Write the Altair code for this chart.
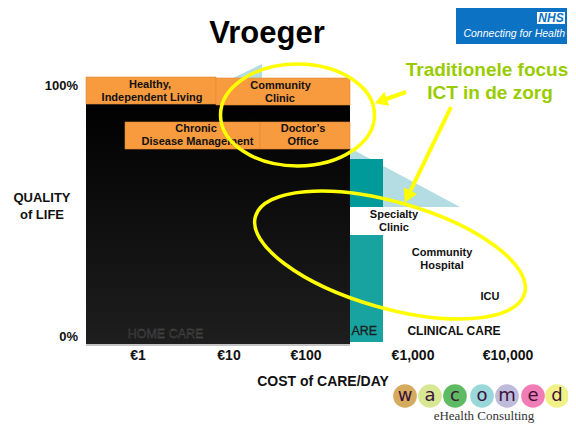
import altair as alt
import pandas as pd

# ---------------- frame (page pixel space of the 576x431 slide) ----------------
W, H = 560, 415
sx = alt.Scale(domain=[8, 568], nice=False, zero=False)
sy = alt.Scale(domain=[8, 423], nice=False, zero=False, reverse=True)

def X(f): return alt.X(f"{f}:Q", scale=sx, axis=None)
def Y(f): return alt.Y(f"{f}:Q", scale=sy, axis=None)

FONT = "Liberation Sans"
SERIF = "Liberation Serif"
YELLOW = "#ffff00"

# ---------------- data ----------------
cost_labels = ["€1", "€10", "€100", "€1,000", "€10,000"]
cost_x = [138, 229, 306, 413, 508]
cost_y = 356

quality_labels = ["100%", "0%"]
quality_y = [86, 337]

# orange care-setting boxes
box_x1 = [86, 216, 125, 260]
box_x2 = [216, 350, 260, 350]
box_y1 = [77, 78, 122, 122]
box_y2 = [104, 105, 149, 149]
box_line1 = ["Healthy,", "Community", "Chronic", "Doctor\u2019s"]
box_line2 = ["Independent Living", "Clinic", "Disease Management", "Office"]
box_tx1 = [150, 280.5, 196, 303]
box_tx2 = [152, 280, 197.5, 303]
box_ty1 = [85, 86, 129, 129]
box_ty2 = [97.5, 98.5, 141.5, 141.5]

# teal clinical columns
teal_x1 = [350, 350]
teal_x2 = [383, 383]
teal_y1 = [159, 235]
teal_y2 = [207, 342]
teal_col = ["#009a9a", "#18a3a0"]

# light blue wedges
tri_id = ["a", "a", "b", "b"]
tri_x = [233, 262, 348, 460]
tri_y = [78, 64, 147, 207]
tri_y2 = [78, 78, 207, 207]

# clinical labels
clin_text = ["Specialty", "Clinic", "Community", "Hospital", "ICU"]
clin_x = [394, 394, 442, 442, 490]
clin_y = [215, 227.5, 253, 266, 297]

# yellow ellipses: centre, radii, rotation
ell_cx = [297.5, 390]
ell_cy = [115, 255]
ell_rx = [77, 140]
ell_ry = [51, 53]
ell_rot = [0, 16]

# yellow arrows: start, head centre, head angle
arr_x = [406, 451]
arr_y = [92, 107]
arr_hx = [380.7, 407.6]
arr_hy = [101, 196.6]
arr_ang = [250.5, 205.8]

# wacomed logo
logo_letters = ["w", "a", "c", "o", "m", "e", "d"]
logo_x = [405, 430, 455, 482, 507, 533, 557]
logo_col = ["#cfa24e", "#d4e488", "#4db352", "#8fd3d6", "#b8b4d6", "#ef6fae", "#eef07a"]
logo_y = 396

# ---------------- layers ----------------
tri_df = pd.DataFrame({"id": tri_id, "x": tri_x, "y": tri_y, "y2": tri_y2})
tris = alt.Chart(tri_df).mark_area(color="#b3dde2").encode(
    x=X("x"), y=Y("y"), y2="y2:Q", detail="id:N")

teal_df = pd.DataFrame({"x": teal_x1, "x2": teal_x2, "y": teal_y1, "y2": teal_y2, "c": teal_col})
teal = alt.Chart(teal_df).mark_rect().encode(
    x=X("x"), x2="x2:Q", y=Y("y"), y2="y2:Q", color=alt.Color("c:N", scale=None))

are_txt = alt.Chart(pd.DataFrame({"t": ["ARE"], "x": [351.5], "y": [331]})).mark_text(
    font=FONT, fontSize=12.5, align="left", baseline="middle", color="#1c1c1c",
    stroke="#1c1c1c", strokeWidth=0.3).encode(x=X("x"), y=Y("y"), text="t:N")

black_df = pd.DataFrame({"x": [86], "x2": [350], "y": [100], "y2": [344]})
black = alt.Chart(black_df).mark_rect(color={
    "gradient": "linear", "x1": 0, "x2": 0, "y1": 0, "y2": 1,
    "stops": [{"offset": 0, "color": "#000000"}, {"offset": 1, "color": "#1e1e1e"}]}).encode(
    x=X("x"), x2="x2:Q", y=Y("y"), y2="y2:Q")

base_line = alt.Chart(pd.DataFrame({"x": [86], "x2": [350], "y": [345]})).mark_rule(
    color="#b0b0b0", strokeWidth=1.5).encode(x=X("x"), x2="x2:Q", y=Y("y"))

box_df = pd.DataFrame({"x": box_x1, "x2": box_x2, "y": box_y1, "y2": box_y2})
boxes = alt.Chart(box_df).mark_rect(color="#f89a3e", stroke="#e08a34", strokeWidth=0.6).encode(
    x=X("x"), x2="x2:Q", y=Y("y"), y2="y2:Q")

home = alt.Chart(pd.DataFrame({"t": ["HOME CARE"], "x": [165.5], "y": [334]})).mark_text(
    font=FONT, fontSize=12.5, align="center", baseline="middle", color="#262626",
    stroke="#5a5a5a", strokeWidth=0.3).encode(x=X("x"), y=Y("y"), text="t:N")

# bold centred labels
bt, bx, by, bs, bc = [], [], [], [], []
def add(t, x, y, s, c="#111111"):
    bt.append(t); bx.append(x); by.append(y); bs.append(s); bc.append(c)

add("Vroeger", 267, 34, 31, "#000000")
for i in range(4):
    add(box_line1[i], box_tx1[i], box_ty1[i], 11)
    add(box_line2[i], box_tx2[i], box_ty2[i], 11)
add("QUALITY", 42, 198, 13)
add("of LIFE", 42, 215, 13)
for t, x, y in zip(clin_text, clin_x, clin_y):
    add(t, x, y, 11)
add("CLINICAL CARE", 454, 331, 12)
add("COST of CARE/DAY", 323, 382, 14)
for t, x in zip(cost_labels, cost_x):
    add(t, x, cost_y, 14)
add("Traditionele focus", 487, 70, 19, "#99cc00")
add("ICT in de zorg", 490, 93, 19, "#99cc00")

bold_df = pd.DataFrame({"t": bt, "x": bx, "y": by, "s": bs, "c": bc})
bold = alt.Chart(bold_df).mark_text(font=FONT, fontWeight="bold", align="center",
                                    baseline="middle").encode(
    x=X("x"), y=Y("y"), text="t:N", size=alt.Size("s:Q", scale=None),
    color=alt.Color("c:N", scale=None))

qual = alt.Chart(pd.DataFrame({"t": quality_labels, "x": [78, 78], "y": quality_y})).mark_text(
    font=FONT, fontWeight="bold", fontSize=13, align="right", baseline="middle", color="#111").encode(
    x=X("x"), y=Y("y"), text="t:N")

# ellipses as custom symbols (bezier ellipse, x-radius 1)
K = 0.5523
def ellipse_path(r):
    kr = K * r
    return (f"M 1 0 C 1 {kr:.4f} {K} {r:.4f} 0 {r:.4f} "
            f"C {-K} {r:.4f} -1 {kr:.4f} -1 0 "
            f"C -1 {-kr:.4f} {-K} {-r:.4f} 0 {-r:.4f} "
            f"C {K} {-r:.4f} 1 {-kr:.4f} 1 0 Z")

ellipses = []
for cx, cy, rx, ry, rot in zip(ell_cx, ell_cy, ell_rx, ell_ry, ell_rot):
    ellipses.append(alt.Chart(pd.DataFrame({"x": [cx], "y": [cy]})).mark_point(
        shape=ellipse_path(ry / rx), size=(2 * rx) ** 2, angle=rot, filled=False,
        color=YELLOW, strokeWidth=3.5, opacity=1).encode(x=X("x"), y=Y("y")))

arr_df = pd.DataFrame({"x": arr_x, "y": arr_y, "x2": arr_hx, "y2": arr_hy, "a": arr_ang})
arr_lines = alt.Chart(arr_df).mark_rule(color=YELLOW, strokeWidth=4).encode(
    x=X("x"), y=Y("y"), x2="x2:Q", y2="y2:Q")
arr_heads = alt.Chart(arr_df).mark_point(shape="triangle-up", filled=True, size=220,
                                         color=YELLOW, opacity=1).encode(
    x=X("x2"), y=Y("y2"), angle=alt.Angle("a:Q", scale=None))

# NHS logo
nhs_bg = alt.Chart(pd.DataFrame({"x": [456, 537], "x2": [567, 565], "y": [2, 12], "y2": [44, 24],
                                 "c": ["#0b72c4", "#ffffff"]})).mark_rect().encode(
    x=X("x"), x2="x2:Q", y=Y("y"), y2="y2:Q", color=alt.Color("c:N", scale=None))
nhs_mark = alt.Chart(pd.DataFrame({"t": ["NHS"], "x": [551], "y": [18]})).mark_text(
    font=FONT, fontStyle="italic", fontWeight="bold", fontSize=12, align="center",
    baseline="middle", color="#0b72c4").encode(x=X("x"), y=Y("y"), text="t:N")
nhs_sub = alt.Chart(pd.DataFrame({"t": ["Connecting for Health"], "x": [565], "y": [33.5]})).mark_text(
    font=FONT, fontStyle="italic", fontSize=10.5, align="right",
    baseline="middle", color="#ffffff").encode(x=X("x"), y=Y("y"), text="t:N")

# wacomed logo
logo_df = pd.DataFrame({"t": logo_letters, "x": logo_x, "y": [logo_y] * 7, "c": logo_col})
logo_dots = alt.Chart(logo_df).mark_point(shape="circle", filled=True, size=560, opacity=0.9).encode(
    x=X("x"), y=Y("y"), color=alt.Color("c:N", scale=None))
logo_txt = alt.Chart(logo_df).mark_text(font="DejaVu Sans", fontSize=18, align="center",
                                        baseline="middle", color="#3b1239").encode(
    x=X("x"), y=Y("y"), text="t:N")
logo_sub = alt.Chart(pd.DataFrame({"t": ["eHealth Consulting"], "x": [484], "y": [415.5]})).mark_text(
    font=SERIF, fontSize=13, align="center", baseline="middle", color="#333333").encode(
    x=X("x"), y=Y("y"), text="t:N")

chart = alt.layer(
    tris, teal, are_txt, black, base_line, boxes, home, bold, qual,
    *ellipses, arr_lines, arr_heads, nhs_bg, nhs_mark, nhs_sub, logo_dots, logo_txt, logo_sub
).properties(
    width=W, height=H, autosize=alt.AutoSizeParams(type="none"), padding=0, background="white"
).configure_view(stroke=None)

chart.save("out.html", embed_options={"renderer": "svg", "actions": False})
